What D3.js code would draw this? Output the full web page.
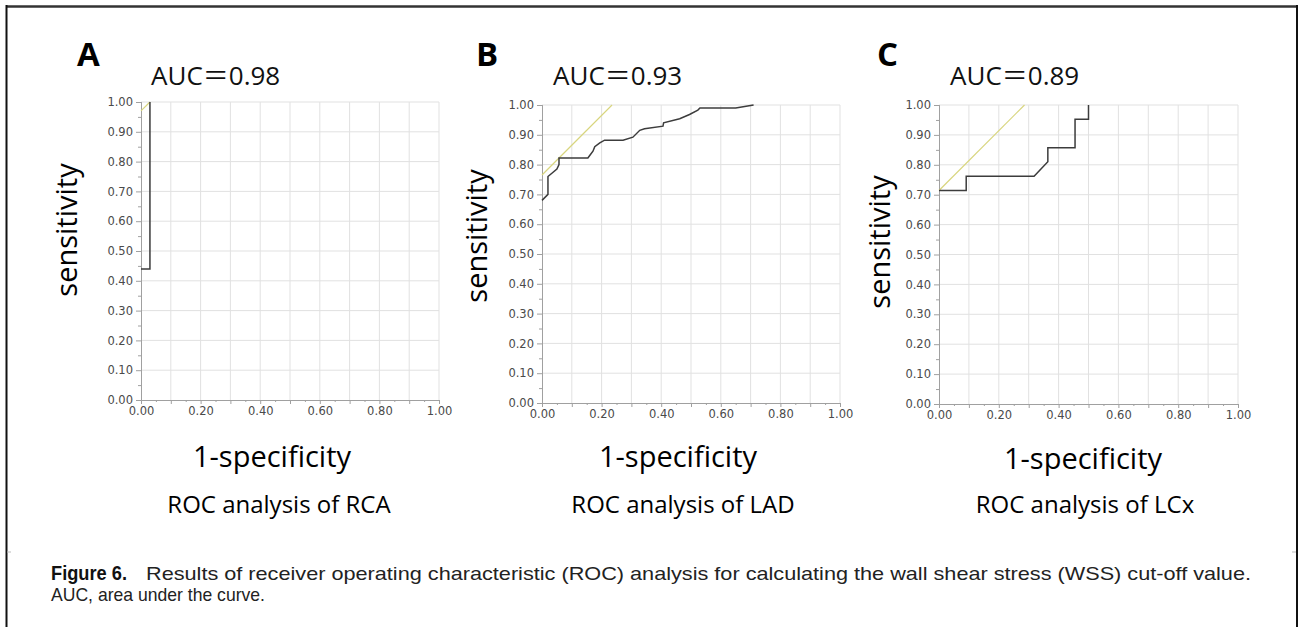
<!DOCTYPE html>
<html>
<head>
<meta charset="utf-8">
<script src="https://cdn.jsdelivr.net/npm/d3@7"></script>
<style>
body { margin: 0; background: #fff; }
svg { display: block; }
</style>
</head>
<body>
<svg></svg>
<script>
const width = 1298,
    height = 627;

// ROC curves (1-specificity, sensitivity)
const fprA = [0, 0.03, 0.03];
const tprA = [0.44, 0.44, 1.00];
const fprB = [0, 0.02, 0.02, 0.05, 0.057, 0.057, 0.154, 0.162, 0.171, 0.177, 0.194, 0.21, 0.272, 0.305, 0.328, 0.344, 0.406, 0.408, 0.462, 0.495, 0.523, 0.53, 0.65, 0.71];
const tprB = [0.68, 0.70, 0.76, 0.785, 0.80, 0.822, 0.822, 0.833, 0.845, 0.86, 0.873, 0.882, 0.882, 0.892, 0.915, 0.92, 0.929, 0.94, 0.954, 0.968, 0.983, 0.99, 0.99, 1.00];
const fprC = [0, 0.091, 0.091, 0.318, 0.364, 0.364, 0.455, 0.455, 0.50, 0.50];
const tprC = [0.714, 0.714, 0.762, 0.762, 0.810, 0.857, 0.857, 0.952, 0.952, 1.00];

// yellow cut-off lines (slope 1)
const cutFprA = [0, 0.03], cutTprA = [0.97, 1.00];
const cutFprB = [0, 0.235], cutTprB = [0.765, 1.00];
const cutFprC = [0, 0.286], cutTprC = [0.714, 1.00];

const letters = ["A", "B", "C"];
const aucValues = ["0.98", "0.93", "0.89"];
const vessels = ["RCA", "LAD", "LCx"];
const tickValues = [0, 0.1, 0.2, 0.3, 0.4, 0.5, 0.6, 0.7, 0.8, 0.9, 1.0];
const minorTicks = [0.05, 0.15, 0.25, 0.35, 0.45, 0.55, 0.65, 0.75, 0.85, 0.95];
const xLabelTicks = [0, 0.2, 0.4, 0.6, 0.8, 1.0];

const curves = [
    {fpr: fprA, tpr: tprA, cutF: cutFprA, cutT: cutTprA},
    {fpr: fprB, tpr: tprB, cutF: cutFprB, cutT: cutTprB},
    {fpr: fprC, tpr: tprC, cutF: cutFprC, cutT: cutTprC}
];

// layout of the three panels
const panels = [
    {left: 141, top: 102, size: 298, letterX: 77, aucX: 151, sensX: 77, sensY: 230, specX: 272, specY: 467, rocX: 279},
    {left: 542, top: 105, size: 298, letterX: 476, aucX: 553, sensX: 487, sensY: 236, specX: 678, specY: 467, rocX: 683},
    {left: 939, top: 105, size: 299, letterX: 877, aucX: 950, sensX: 890, sensY: 242, specX: 1083, specY: 469, rocX: 1085}
];

const svg = d3.select("svg").attr("width", width).attr("height", height);

// frame
svg.append("line").attr("x1", 6).attr("x2", 1298).attr("y1", 6.5).attr("y2", 6.5)
    .attr("stroke", "#333").attr("stroke-width", 2.5);
svg.append("line").attr("x1", 6.5).attr("x2", 6.5).attr("y1", 5).attr("y2", height)
    .attr("stroke", "#111").attr("stroke-width", 2);
svg.append("line").attr("x1", 1297).attr("x2", 1297).attr("y1", 5).attr("y2", height)
    .attr("stroke", "#111").attr("stroke-width", 2);
svg.append("line").attr("x1", 7).attr("x2", 11).attr("y1", 552).attr("y2", 552).attr("stroke", "#bbb");
svg.append("line").attr("x1", 1292).attr("x2", 1296).attr("y1", 552).attr("y2", 552).attr("stroke", "#bbb");

const fmt = d3.format(".2f");

panels.forEach((p, i) => {
    const c = curves[i];
    const x = d3.scaleLinear().domain([0, 1]).range([p.left, p.left + p.size]);
    const y = d3.scaleLinear().domain([0, 1]).range([p.top + p.size, p.top]);
    const g = svg.append("g").classed("panel", true);

    // grid
    g.append("g").selectAll("line").data(tickValues.slice(1)).enter().append("line")
        .attr("x1", d => x(d)).attr("x2", d => x(d)).attr("y1", y(0)).attr("y2", y(1))
        .attr("stroke", "#e1e1e1").attr("stroke-width", 1);
    g.append("g").selectAll("line").data(tickValues.slice(1)).enter().append("line")
        .attr("x1", x(0)).attr("x2", x(1)).attr("y1", d => y(d)).attr("y2", d => y(d))
        .attr("stroke", "#e1e1e1").attr("stroke-width", 1);

    // axes
    const yAxis = d3.axisLeft(y).tickValues(tickValues).tickFormat(fmt).tickSize(5).tickPadding(3);
    const yMinor = d3.axisLeft(y).tickValues(minorTicks).tickFormat("").tickSize(3);
    const xAxis = d3.axisBottom(x).tickValues(tickValues).tickFormat(d => xLabelTicks.includes(d) ? fmt(d) : "").tickSize(4).tickPadding(3);
    const xMinor = d3.axisBottom(x).tickValues(minorTicks).tickFormat("").tickSize(2);

    [[yAxis, `translate(${p.left},0)`], [yMinor, `translate(${p.left},0)`],
     [xAxis, `translate(0,${p.top + p.size})`], [xMinor, `translate(0,${p.top + p.size})`]].forEach(([ax, tr]) => {
        const a = g.append("g").attr("transform", tr).call(ax);
        a.select(".domain").attr("stroke", "#a0a0a0");
        a.selectAll(".tick line").attr("stroke", "#a0a0a0");
        a.selectAll(".tick text").attr("font-family", "DejaVu Sans").attr("font-size", 11.5).attr("fill", "#4a4a4a");
    });

    // cut-off line
    const line = d3.line().x(d => x(d[0])).y(d => y(d[1]));
    g.append("path").datum(c.cutF.map((f, k) => [f, c.cutT[k]]))
        .attr("d", line).attr("fill", "none").attr("stroke", "#d8d57e").attr("stroke-width", 1.2);

    // ROC curve
    g.append("path").datum(c.fpr.map((f, k) => [f, c.tpr[k]]))
        .attr("d", line).attr("fill", "none").attr("stroke", "#3c3c3c").attr("stroke-width", 1.5);

    // texts
    g.append("text").attr("x", p.letterX).attr("y", 66)
        .attr("font-family", "Open Sans").attr("font-weight", "bold").attr("font-size", 33)
        .text(letters[i]);
    const auc = g.append("text").attr("x", p.aucX).attr("y", 85)
        .attr("font-family", "Open Sans").attr("font-size", 26).attr("fill", "#111");
    auc.append("tspan").text("AUC");
    auc.append("tspan").attr("font-family", "Noto Sans CJK JP").text("＝");
    auc.append("tspan").text(aucValues[i]);

    g.append("text").attr("transform", `translate(${p.sensX},${p.sensY}) rotate(-90)`)
        .attr("font-family", "Open Sans").attr("font-size", 29).attr("text-anchor", "middle")
        .text("sensitivity");
    g.append("text").attr("x", p.specX).attr("y", p.specY)
        .attr("font-family", "Open Sans").attr("font-size", 29).attr("text-anchor", "middle")
        .text("1-specificity");
    g.append("text").attr("x", p.rocX).attr("y", 513)
        .attr("font-family", "Open Sans").attr("font-size", 24).attr("text-anchor", "middle")
        .text("ROC analysis of " + vessels[i]);
});

// caption (condensed look through textLength)
svg.append("text").attr("x", 51).attr("y", 580)
    .attr("font-family", "Liberation Sans").attr("font-weight", "bold")
    .attr("font-size", 19.5).attr("fill", "#111")
    .attr("textLength", 76).attr("lengthAdjust", "spacingAndGlyphs")
    .text("Figure 6.");
svg.append("text").attr("x", 146).attr("y", 580)
    .attr("font-family", "Liberation Sans").attr("font-size", 19).attr("fill", "#222")
    .attr("textLength", 1105).attr("lengthAdjust", "spacingAndGlyphs")
    .text("Results of receiver operating characteristic (ROC) analysis for calculating the wall shear stress (WSS) cut-off value.");
svg.append("text").attr("x", 51).attr("y", 601)
    .attr("font-family", "Liberation Sans").attr("font-size", 19).attr("fill", "#222")
    .attr("textLength", 214).attr("lengthAdjust", "spacingAndGlyphs")
    .text("AUC, area under the curve.");
</script>
</body>
</html>
